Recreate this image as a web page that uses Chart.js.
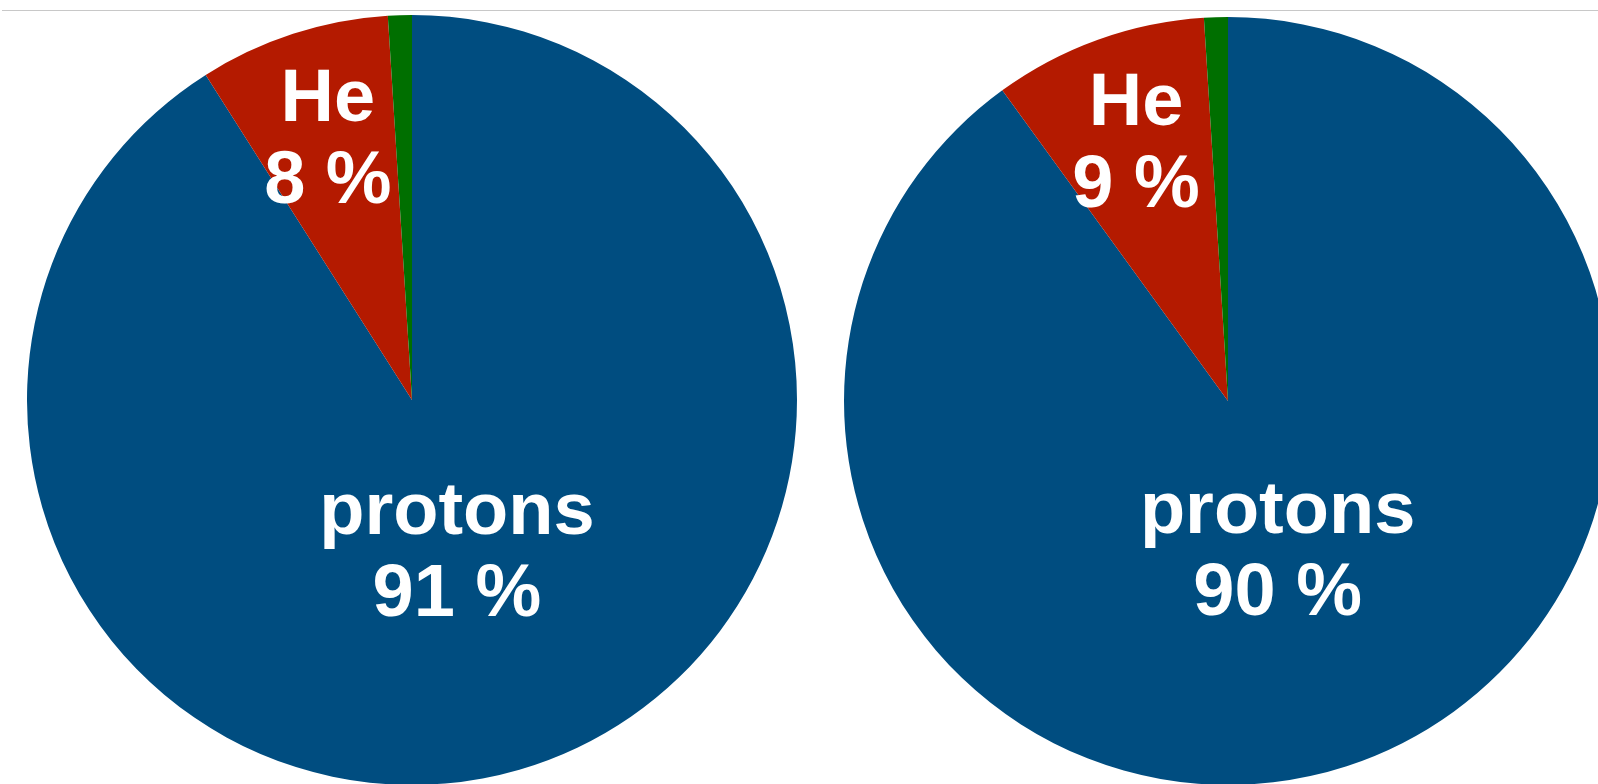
<!DOCTYPE html>
<html>
<head>
    <title></title>
    <script src="https://cdn.jsdelivr.net/npm/chart.js@4/dist/chart.umd.min.js"></script>
    <style>
        html, body { margin: 0; padding: 0; background: #fff; overflow: hidden; width: 1598px; height: 784px; }
        #rule { position: absolute; left: 2px; top: 10px; width: 1596px; height: 1px; background: #c8c8c8; }
        canvas { position: absolute; }
        #pie-left { left: 27px; top: 15px; }
        #pie-right { left: 844px; top: 17px; }
    </style>
</head>

<body>
    <div id="rule"></div>
    <canvas id="pie-left" width="770" height="770"></canvas>
    <canvas id="pie-right" width="768" height="768"></canvas>

    <script>
        var categories = ['protons', 'He', 'heavier'];
        var leftValues = [91, 8, 1];
        var rightValues = [90, 9, 1];
        var sliceColors = ['#004d80', '#b41a00', '#006f00'];
        // which slices get a text label, and how far out (fraction of radius)
        var labelShown = [true, true, false];
        var labelDepth = [0.418, 0.707, 0];

        var sliceLabels = {
            id: 'sliceLabels',
            afterDatasetsDraw: function(chart) {
                var ctx = chart.ctx;
                var meta = chart.getDatasetMeta(0);
                var values = chart.data.datasets[0].data;
                ctx.save();
                ctx.fillStyle = '#ffffff';
                ctx.font = 'bold 74px "Liberation Sans", Arial, sans-serif';
                ctx.textAlign = 'center';
                ctx.textBaseline = 'middle';
                meta.data.forEach(function(arc, i) {
                    if (!labelShown[i]) return;
                    var p = arc.getProps(['x', 'y', 'startAngle', 'endAngle', 'outerRadius'], true);
                    var mid = (p.startAngle + p.endAngle) / 2;
                    var d = p.outerRadius * labelDepth[i];
                    var cx = p.x + Math.cos(mid) * d;
                    var cy = p.y + Math.sin(mid) * d;
                    ctx.fillText(chart.data.labels[i], cx, cy - 41);
                    ctx.fillText(values[i] + ' %', cx, cy + 41);
                });
                ctx.restore();
            }
        };

        function makePie(id, values) {
            var ctx = document.getElementById(id).getContext('2d');
            return new Chart(ctx, {
                type: 'pie',
                data: {
                    labels: categories,
                    datasets: [{
                        data: values,
                        backgroundColor: sliceColors,
                        borderWidth: 0,
                        hoverOffset: 0
                    }]
                },
                options: {
                    responsive: false,
                    animation: false,
                    events: [],
                    layout: { padding: 0 },
                    plugins: {
                        legend: { display: false },
                        tooltip: { enabled: false }
                    }
                },
                plugins: [sliceLabels]
            });
        }

        window.onload = function() {
            makePie('pie-left', leftValues);
            makePie('pie-right', rightValues);
        };
    </script>
</body>
</html>
